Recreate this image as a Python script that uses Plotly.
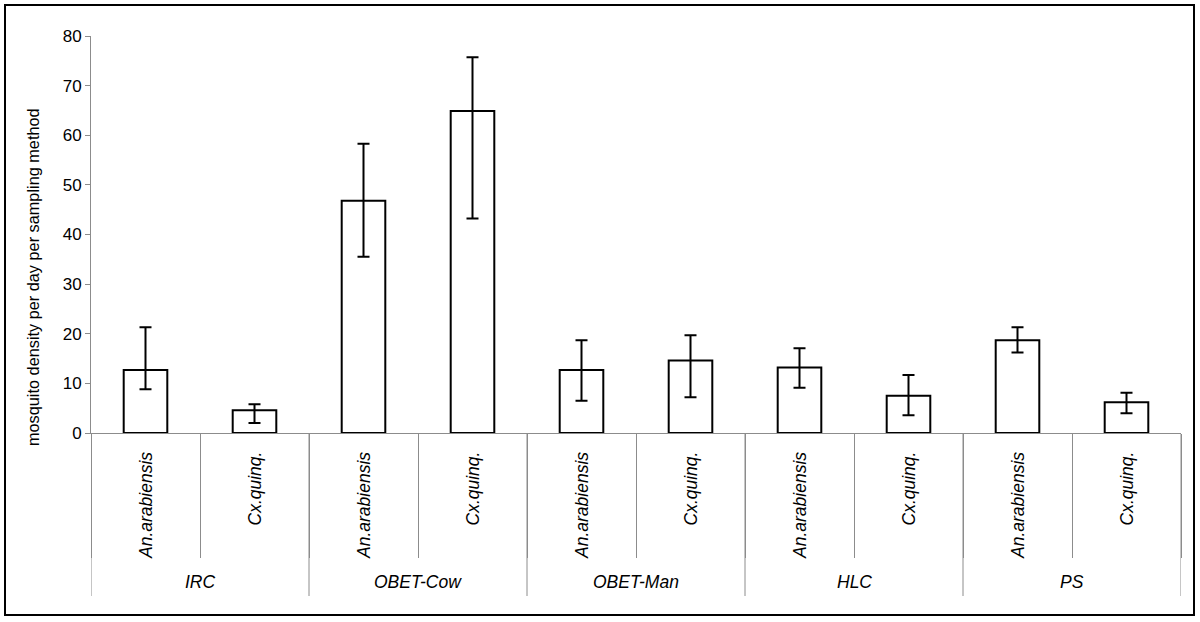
import plotly.graph_objects as go

groups = ["IRC", "OBET-Cow", "OBET-Man", "HLC", "PS"]
species = ["An.arabiensis", "Cx.quinq."]
means = [12.7, 4.6, 46.8, 64.9, 12.7, 14.6, 13.2, 7.5, 18.7, 6.2]
upper = [21.3, 5.8, 58.3, 75.7, 18.7, 19.7, 17.1, 11.7, 21.3, 8.1]
lower = [8.8, 2.0, 35.5, 43.2, 6.5, 7.2, 9.1, 3.6, 16.2, 4.0]
y_ticks = [0, 10, 20, 30, 40, 50, 60, 70, 80]
y_title = "mosquito density per day per sampling method"

cats = [f"{g} | {s}" for g in groups for s in species]
sp_labels = [s for g in groups for s in species]
err_plus = [u - m for u, m in zip(upper, means)]
err_minus = [m - l for m, l in zip(means, lower)]

W, H = 1200, 622
L, R, T, B = 91, 19, 36, 189
pw, ph = W - L - R, H - T - B

def px_x(p):
    return (p - L) / pw

def px_y(p):
    return (H - B - p) / ph

FONT = "Liberation Sans, Arial, Helvetica, sans-serif"
GRAY = "#8c8c8c"

fig = go.Figure()
fig.add_trace(go.Bar(
    x=cats, y=means,
    marker=dict(color="white", line=dict(color="black", width=2)),
    error_y=dict(type="data", symmetric=False, array=err_plus, arrayminus=err_minus,
                 color="black", thickness=2, width=6),
    showlegend=False,
))

annotations = []
for c, s in zip(cats, sp_labels):
    annotations.append(dict(x=c, xref="x", y=px_y(450), yref="paper", text=f"<i>{s}</i>",
                            textangle=-90, showarrow=False, xanchor="center", yanchor="top",
                            font=dict(family=FONT, size=17.5, color="black")))
for gi, g in enumerate(groups):
    annotations.append(dict(x=2 * gi + 0.5, xref="x", y=px_y(582), yref="paper",
                            text=f"<i>{g}</i>", showarrow=False, xanchor="center", yanchor="middle",
                            font=dict(family=FONT, size=17.5, color="black")))
annotations.append(dict(x=px_x(33), xref="paper", y=px_y(277), yref="paper", text=y_title,
                        textangle=-90, showarrow=False, xanchor="center", yanchor="middle",
                        font=dict(family=FONT, size=16.3, color="black")))

shapes = []
for b in [-0.5, 1.5, 3.5, 5.5, 7.5, 9.5]:
    shapes.append(dict(type="line", xref="x", yref="paper", x0=b, x1=b, y0=0, y1=px_y(596),
                       line=dict(color=GRAY, width=1)))
shapes.append(dict(type="rect", xref="paper", yref="paper", x0=px_x(5), x1=px_x(1194),
                   y0=px_y(615), y1=px_y(5), line=dict(color="black", width=2),
                   fillcolor="rgba(0,0,0,0)", layer="below"))

fig.update_layout(
    width=W, height=H,
    margin=dict(l=L, r=R, t=T, b=B, autoexpand=False),
    paper_bgcolor="white", plot_bgcolor="white",
    bargap=0.6,
    font=dict(family=FONT, color="black"),
    xaxis=dict(type="category", range=[-0.5, 9.5], showticklabels=False,
               ticks="outside", tickson="boundaries", ticklen=124, tickcolor=GRAY, tickwidth=1,
               showline=True, linecolor=GRAY, linewidth=1, showgrid=False, zeroline=False),
    yaxis=dict(range=[0, 80], tickvals=y_ticks, ticks="outside", ticklen=5, tickcolor=GRAY,
               showline=True, linecolor=GRAY, linewidth=1, showgrid=False, zeroline=False,
               tickfont=dict(family=FONT, size=17, color="black")),
    annotations=annotations,
    shapes=shapes,
)

fig.write_html("out.html", config={"displayModeBar": False},
               post_script="document.body.style.margin='0';document.body.style.overflow='hidden';")
